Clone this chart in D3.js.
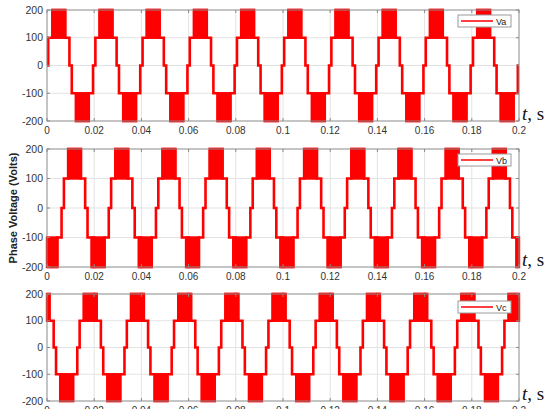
<!DOCTYPE html>
<html><head><meta charset="utf-8">
<script src="https://cdn.jsdelivr.net/npm/d3@7"></script>
<style>
html,body{margin:0;padding:0;background:#fff;}
svg{display:block;font-family:"Liberation Sans",Arial,sans-serif;}
</style></head>
<body><svg id="chart" width="547" height="409"></svg>
<script>
// ---- data ----
const timeTicks = [0,0.02,0.04,0.06,0.08,0.1,0.12,0.14,0.16,0.18,0.2];
const timeTickLabels = ["0","0.02","0.04","0.06","0.08","0.1","0.12","0.14","0.16","0.18","0.2"];
const voltTicks = [-200,-100,0,100,200];
const periodMs = 20;
const cycles = 10;
const seriesNames = ["Va","Vb","Vc"];
// step edges within one period (ms) and level held between edges; ±200 = PWM band between ±100 and ±200
const vaEdgesMs = [0,0.5,2.3,7.7,9.5,10.5,12.3,17.7,19.5,20];
const vaLevels  = [0,100,200,100,0,-100,-200,-100,0];
const vbEdgesMs = [0,4.37,6.17,7.17,8.97,14.37,16.17,17.17,18.97,20];
const vbLevels  = [-200,-100,0,100,200,100,0,-100,-200];
const vcEdgesMs = [0,1.03,2.83,3.83,5.63,11.03,12.83,13.83,15.63,20];
const vcLevels  = [200,100,0,-100,-200,-100,0,100,200];

const seriesEdges = [vaEdgesMs, vbEdgesMs, vcEdgesMs];
const seriesLevels = [vaLevels, vbLevels, vcLevels];

// ---- layout ----
const panels = [
  {top:10, bottom:121, right:519},
  {top:149, bottom:267, right:519},
  {top:294, bottom:401, right:519}
];
const left = 47;
const svg = d3.select("#chart");
const red = "#ff0000";

panels.forEach((p, i) => {
  const x = d3.scaleLinear().domain([0, 0.2]).range([left, p.right]);
  const y = d3.scaleLinear().domain([-200, 200]).range([p.bottom, p.top]);
  const g = svg.append("g");

  // grid
  g.selectAll(".vg").data(timeTicks.slice(1, -1)).enter().append("line")
    .attr("x1", d => x(d)).attr("x2", d => x(d)).attr("y1", p.top).attr("y2", p.bottom)
    .attr("stroke", "#e3e3e3").attr("stroke-width", 1);
  g.selectAll(".hg").data(voltTicks.slice(1, -1)).enter().append("line")
    .attr("x1", left).attr("x2", p.right).attr("y1", d => y(d)).attr("y2", d => y(d))
    .attr("stroke", "#e3e3e3").attr("stroke-width", 1);

  // build segments over all cycles
  const edges = seriesEdges[i], levels = seriesLevels[i];
  const segs = [];
  for (let c = 0; c < cycles; c++) {
    for (let k = 0; k < levels.length; k++) {
      segs.push({t0: (c * periodMs + edges[k]) / 1000, t1: (c * periodMs + edges[k + 1]) / 1000, v: levels[k]});
    }
  }
  // PWM bands
  g.selectAll(".band").data(segs.filter(s => Math.abs(s.v) === 200)).enter().append("rect")
    .attr("x", s => x(s.t0)).attr("width", s => x(s.t1) - x(s.t0))
    .attr("y", s => y(s.v > 0 ? 200 : -100)).attr("height", s => Math.abs(y(100) - y(200)))
    .attr("fill", red).attr("stroke", red).attr("stroke-width", 2.4);
  // staircase line
  const pts = [];
  segs.forEach(s => { pts.push([s.t0, s.v]); pts.push([s.t1, s.v]); });
  const line = d3.line().x(d => x(d[0])).y(d => y(d[1]));
  g.append("path").attr("d", line(pts)).attr("fill", "none")
    .attr("stroke", red).attr("stroke-width", 2.6).attr("stroke-linejoin", "miter");

  // axes box
  g.append("rect").attr("x", left).attr("y", p.top).attr("width", p.right - left).attr("height", p.bottom - p.top)
    .attr("fill", "none").attr("stroke", "#8a8a8a").attr("stroke-width", 1);
  // ticks (inward)
  timeTicks.forEach(t => {
    g.append("line").attr("x1", x(t)).attr("x2", x(t)).attr("y1", p.bottom).attr("y2", p.bottom - 3).attr("stroke", "#8a8a8a");
    g.append("line").attr("x1", x(t)).attr("x2", x(t)).attr("y1", p.top).attr("y2", p.top + 3).attr("stroke", "#8a8a8a");
  });
  voltTicks.forEach(v => {
    g.append("line").attr("x1", left).attr("x2", left + 3).attr("y1", y(v)).attr("y2", y(v)).attr("stroke", "#8a8a8a");
    g.append("line").attr("x1", p.right).attr("x2", p.right - 3).attr("y1", y(v)).attr("y2", y(v)).attr("stroke", "#8a8a8a");
  });

  // tick labels
  g.selectAll(".xl").data(timeTicks).enter().append("text")
    .attr("x", d => x(d)).attr("y", p.bottom + 13).attr("text-anchor", "middle")
    .attr("font-size", 10).attr("fill", "#333").text((d, j) => timeTickLabels[j]);
  g.selectAll(".yl").data(voltTicks).enter().append("text")
    .attr("x", left - 4).attr("y", d => y(d) + 3.5).attr("text-anchor", "end")
    .attr("font-size", 10.5).attr("fill", "#333").text(d => d);

  // t, s label
  const ts = g.append("text").attr("x", p.right + 3).attr("y", p.bottom - 1)
    .attr("font-family", "'Liberation Serif','Times New Roman',serif").attr("font-size", 19).attr("fill", "#111");
  ts.append("tspan").attr("font-style", "italic").text("t");
  ts.append("tspan").text(", s");

  // legend
  const lx = p.right - 61, ly = p.top + 5 + (i === 2 ? 2 : 0);
  g.append("rect").attr("x", lx).attr("y", ly).attr("width", 53).attr("height", 12)
    .attr("fill", "#fff").attr("stroke", "#9a9a9a").attr("stroke-width", 1);
  g.append("line").attr("x1", lx + 3).attr("x2", lx + 35).attr("y1", ly + 6).attr("y2", ly + 6)
    .attr("stroke", red).attr("stroke-width", 1.5);
  g.append("text").attr("x", lx + 38).attr("y", ly + 9.5).attr("font-size", 9).attr("fill", "#222").text(seriesNames[i]);
});

// y label
svg.append("text").attr("transform", "translate(17,208) rotate(-90)")
  .attr("text-anchor", "middle").attr("font-size", 11).attr("font-weight", "bold").attr("fill", "#222")
  .text("Phase Voltage (Volts)");
</script></body></html>
